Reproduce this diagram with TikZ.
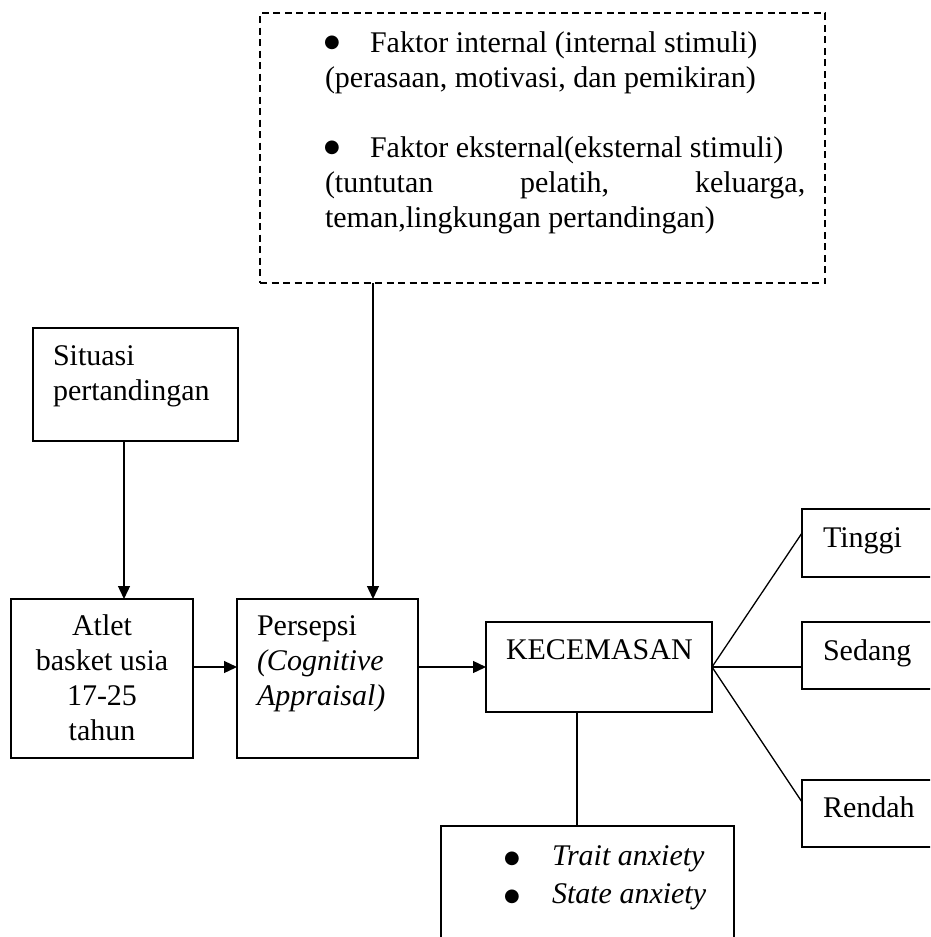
\documentclass[tikz,border=0pt]{standalone}
\usepackage{fontspec}
\setmainfont{Liberation Serif}
\newfontfamily\dejavu{DejaVu Sans}
\usetikzlibrary{arrows.meta}
\newcommand{\bigbul}[1]{\raisebox{#1}{\dejavu\fontsize{18}{18}\selectfont ●}}
\begin{document}
\begin{tikzpicture}[x=1pt,y=-1pt,
  box/.style={draw, line width=1.3pt, inner sep=0pt, outer sep=0pt},
  dbox/.style={box, dash pattern=on 7pt off 4.5pt},
  con/.style={line width=1.3pt},
  arr/.style={con, -{Triangle[length=13pt,width=12pt]}},
  txt/.style={anchor=base west, inner sep=0pt, outer sep=0pt, font=\fontsize{30}{34.5}\selectfont},
  itxt/.style={txt, font=\fontsize{30}{34.5}\selectfont\itshape}]
\useasboundingbox (0,0) rectangle (930,937);
\clip (0,0) rectangle (930,937);

% boxes
\node[dbox, minimum width=565pt, minimum height=270pt] (faktor) at (542.5,148) {};
\node[box, minimum width=205pt, minimum height=113pt] (situasi) at (135.5,384.5) {};
\node[box, minimum width=182pt, minimum height=159pt] (atlet) at (102,678.5) {};
\node[box, minimum width=181pt, minimum height=159pt] (persepsi) at (327.5,678.5) {};
\node[box, minimum width=226pt, minimum height=90pt] (kecemasan) at (599,667) {};
\node[box, minimum width=158pt, minimum height=68pt] (tinggi) at (881,543) {};
\node[box, minimum width=158pt, minimum height=67pt] (sedang) at (881,655.5) {};
\node[box, minimum width=158pt, minimum height=67pt] (rendah) at (881,813.5) {};
\node[box, minimum width=293pt, minimum height=174pt] (anxiety) at (587.5,913) {};

% texts in dashed box
\node[txt] (b1) at (324,52) {\bigbul{5pt}};
\node[txt] (f1) at (370,52) {Faktor internal (internal stimuli)};
\node[txt] (f2) at (325,87) {(perasaan, motivasi, dan pemikiran)};
\node[txt] (b2) at (324,157) {\bigbul{5pt}};
\node[txt] (f3) at (370,157) {Faktor eksternal(eksternal stimuli)};
\node[txt] (f4a) at (325,192) {(tuntutan};
\node[txt] (f4b) at (520,192) {pelatih,};
\node[txt] (f4c) at (695,192) {keluarga,};
\node[txt] (f5) at (325,227) {teman,lingkungan pertandingan)};

% situasi
\node[txt] (s1) at (53,365) {Situasi};
\node[txt] (s2) at (53,400) {pertandingan};

% atlet
\node[txt, anchor=base] (a1) at (102,635) {Atlet};
\node[txt, anchor=base] (a2) at (102,670) {basket usia};
\node[txt, anchor=base] (a3) at (102,705) {17-25};
\node[txt, anchor=base] (a4) at (102,740) {tahun};

% persepsi
\node[txt] (p1) at (257,635) {Persepsi};
\node[itxt] (p2) at (257,670) {(Cognitive};
\node[itxt] (p3) at (257,705) {Appraisal)};

% kecemasan and levels
\node[txt] (k1) at (506,659) {KECEMASAN};
\node[txt] (t1) at (823,547) {Tinggi};
\node[txt] (d1) at (823,660) {Sedang};
\node[txt] (r1) at (823,817) {Rendah};

% anxiety types
\node[txt] (b3) at (504,865) {\bigbul{2pt}};
\node[itxt] (x1) at (552,865) {Trait anxiety};
\node[txt] (b4) at (504,903) {\bigbul{2pt}};
\node[itxt] (x2) at (552,903) {State anxiety};

% connectors
\draw[arr] ([xshift=-11.5pt]situasi.south) -- ([xshift=22pt]atlet.north);
\draw[arr] ([xshift=-169.5pt]faktor.south) -- ([xshift=45.5pt]persepsi.north);
\draw[arr] ([yshift=11.5pt]atlet.east) -- ([yshift=11.5pt]persepsi.west);
\draw[arr] ([yshift=11.5pt]persepsi.east) -- (kecemasan.west);
\draw[con] (kecemasan.east) -- ([yshift=10pt]tinggi.west);
\draw[con] (kecemasan.east) -- ([yshift=-11.5pt]sedang.west);
\draw[con] (kecemasan.east) -- ([yshift=11.5pt]rendah.west);
\draw[con] ([xshift=-22pt]kecemasan.south) -- ([xshift=-10.5pt]anxiety.north);
\end{tikzpicture}
\end{document}
